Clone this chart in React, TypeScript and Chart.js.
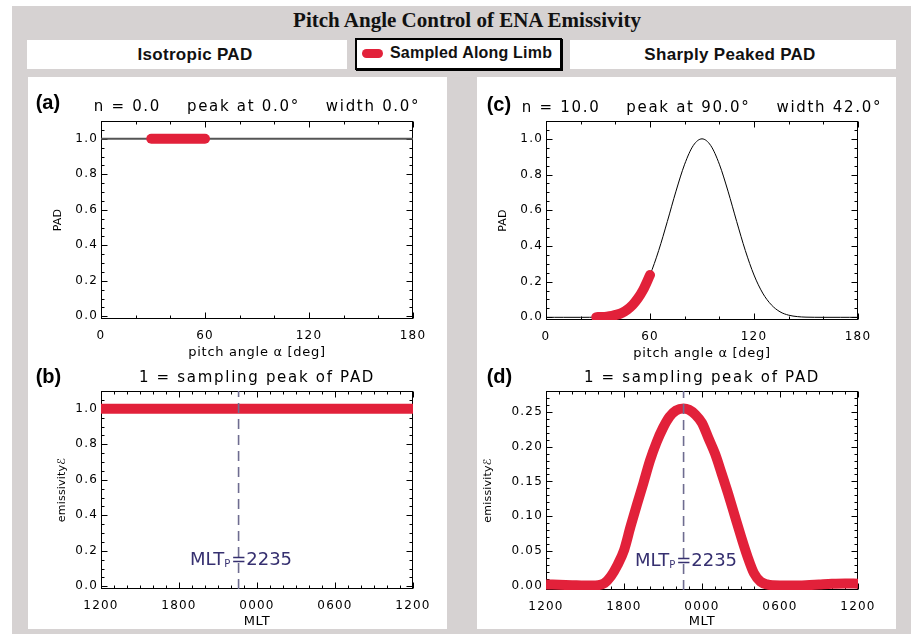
import React, { useEffect, useRef } from "react";
import { Chart, registerables } from "chart.js";

Chart.register(...registerables);

// ---------------- data ----------------
const pitchAngleDeg = [0, 5, 10, 15, 20, 25, 30, 35, 40, 45, 50, 55, 60, 65, 70, 75, 80, 85, 90, 95, 100, 105, 110, 115, 120, 125, 130, 135, 140, 145, 150, 155, 160, 165, 170, 175, 180];
const padIsotropic = [1, 1, 1, 1, 1, 1, 1, 1, 1, 1, 1, 1, 1, 1, 1, 1, 1, 1, 1, 1, 1, 1, 1, 1, 1, 1, 1, 1, 1, 1, 1, 1, 1, 1, 1, 1, 1];
const padPeaked = [0, 0, 0, 0, 0, 0.0002, 0.001, 0.004, 0.012, 0.031, 0.07, 0.136, 0.237, 0.374, 0.537, 0.707, 0.858, 0.963, 1.0, 0.963, 0.858, 0.707, 0.537, 0.374, 0.237, 0.136, 0.07, 0.031, 0.012, 0.004, 0.001, 0.0002, 0, 0, 0, 0, 0];

const sampledAngleDeg = [29, 32, 35, 38, 41, 44, 47, 50, 53, 56, 60];
const sampledPadIsotropic = [1, 1, 1, 1, 1, 1, 1, 1, 1, 1, 1];
const sampledPadPeaked = [0.001, 0.002, 0.004, 0.008, 0.015, 0.026, 0.044, 0.07, 0.106, 0.153, 0.237];

const mltHoursIsotropic = [12, 36];
const emissivityIsotropic = [1.0, 1.0];

const mltHours = [12, 13, 14, 15, 16, 16.5, 17, 17.5, 18, 18.5, 19, 19.5, 20, 20.5, 21, 21.5, 22, 22.58, 23, 23.5, 24, 24.5, 25, 25.5, 26, 26.5, 27, 27.5, 28, 28.5, 29, 30, 31, 32, 33, 34, 35, 36];
const emissivityPeaked = [0.002, 0.0015, 0.001, 0.0005, 0.001, 0.004, 0.014, 0.03, 0.051, 0.085, 0.117, 0.148, 0.18, 0.206, 0.227, 0.243, 0.252, 0.255, 0.253, 0.246, 0.234, 0.212, 0.19, 0.162, 0.133, 0.102, 0.071, 0.042, 0.018, 0.006, 0.002, 0.0005, 0.0005, 0.001, 0.002, 0.003, 0.0035, 0.003];

const mltPeakHours = 22.583;
const mltPeakLabel = "2235";

const mltTickLabels = ["1200", "1800", "0000", "0600", "1200"];

// ---------------- styles ----------------
const RED = "#e2213a";
const DASH = "#6e6c90";
const NAVY = "#363070";
const GRAY = "#d6d2d2";
const FONT = "'DejaVu Sans', sans-serif";

const toXY = (xs: number[], ys: number[]) => xs.map((x, i) => ({ x, y: ys[i] }));

interface PanelSpec {
  key: string;
  left: number;
  top: number;
  width: number;
  height: number;
  yAxisWidth: number;
  padTop: number;
  padRight: number;
  xAxisHeight: number;
  xMin: number;
  xMax: number;
  xStep: number;
  xMinorStep: number;
  xLabel: (v: number, i: number) => string;
  xTickPad: number;
  yMin: number;
  yMax: number;
  yStep: number;
  yMinorStep: number;
  yDecimals: number;
  letter: string;
  letterDX: number;
  letterDY: number;
  title: string;
  titleDY: number;
  xTitle: string;
  xTitleDY: number;
  yTitle: string;
  yTitleDX: number;
  mltMark: boolean;
  datasets: any[];
}

function makeDecor(spec: PanelSpec) {
  return {
    id: "decor",
    beforeDraw(chart: any) {
      chart.ctx.letterSpacing = "1.2px";
    },
    beforeDatasetsDraw(chart: any) {
      const { ctx, chartArea: a } = chart;
      const xs = chart.scales.x;
      const ys = chart.scales.y;
      ctx.save();
      ctx.strokeStyle = "#000";
      ctx.lineWidth = 1;
      const L = Math.round(a.left) + 0.5;
      const R = Math.round(a.right) - 0.5;
      const T = Math.round(a.top) + 0.5;
      const B = Math.round(a.bottom) - 0.5;
      ctx.strokeRect(L, T, R - L, B - T);
      ctx.beginPath();
      const major = 6;
      const minor = 3;
      const xMaj = xs.ticks.map((t: any) => t.value);
      const yMaj = ys.ticks.map((t: any) => t.value);
      const isMaj = (arr: number[], v: number) => arr.some((m) => Math.abs(m - v) < 1e-6);
      for (let v = spec.xMin; v <= spec.xMax + 1e-9; v += spec.xMinorStep) {
        const p = Math.round(xs.getPixelForValue(v)) + 0.5;
        const len = isMaj(xMaj, v) ? major : minor;
        ctx.moveTo(p, B);
        ctx.lineTo(p, B - len);
        ctx.moveTo(p, T);
        ctx.lineTo(p, T + len);
      }
      const y0 = Math.ceil(spec.yMin / spec.yMinorStep - 1e-9);
      for (let k = y0; k * spec.yMinorStep <= spec.yMax + 1e-9; k++) {
        const v = k * spec.yMinorStep;
        const p = Math.round(ys.getPixelForValue(v)) + 0.5;
        const len = isMaj(yMaj, v) ? major : minor;
        ctx.moveTo(L, p);
        ctx.lineTo(L + len, p);
        ctx.moveTo(R, p);
        ctx.lineTo(R - len, p);
      }
      ctx.stroke();
      ctx.restore();
    },
    afterDraw(chart: any) {
      const { ctx, chartArea: a } = chart;
      const xs = chart.scales.x;
      const cx = (a.left + a.right) / 2;
      const cy = (a.top + a.bottom) / 2;
      ctx.save();
      ctx.fillStyle = "#000";
      ctx.textBaseline = "middle";
      // panel letter
      ctx.letterSpacing = "0px";
      ctx.font = "bold 20px 'Liberation Sans', sans-serif";
      ctx.textAlign = "left";
      ctx.fillText(spec.letter, a.left + spec.letterDX, a.top + spec.letterDY);
      // title
      ctx.letterSpacing = "1.7px";
      ctx.font = `15px ${FONT}`;
      ctx.textAlign = "center";
      ctx.fillText(spec.title, cx, a.top + spec.titleDY);
      // x title
      ctx.letterSpacing = "0.7px";
      ctx.font = `13px ${FONT}`;
      ctx.fillText(spec.xTitle, cx, a.bottom + spec.xTitleDY);
      // y title
      ctx.letterSpacing = "0.2px";
      ctx.font = `11px ${FONT}`;
      ctx.save();
      ctx.translate(a.left + spec.yTitleDX, cy);
      ctx.rotate(-Math.PI / 2);
      ctx.fillText(spec.yTitle, 0, 0);
      ctx.restore();
      // MLT peak annotation
      if (spec.mltMark) {
        ctx.letterSpacing = "0px";
        ctx.fillStyle = NAVY;
        ctx.textAlign = "left";
        ctx.textBaseline = "alphabetic";
        const big = `18px ${FONT}`;
        const small = `10px ${FONT}`;
        ctx.font = big;
        const w1 = ctx.measureText("MLT").width;
        const w3 = ctx.measureText("=" + mltPeakLabel).width;
        ctx.font = small;
        const w2 = ctx.measureText("P").width + 1;
        const total = w1 + w2 + w3;
        const px = xs.getPixelForValue(mltPeakHours) + 2.5;
        const base = a.bottom - 31 + 6.5;
        let x = px - total / 2;
        ctx.font = big;
        ctx.fillText("MLT", x, base);
        x += w1;
        ctx.font = small;
        ctx.fillText("P", x, base + 2.5);
        x += w2;
        ctx.font = big;
        ctx.fillText("=" + mltPeakLabel, x, base);
      }
      ctx.restore();
    },
  };
}

const fix = (d: number) => (v: any) => Number(v).toFixed(d);

const specs: PanelSpec[] = [
  {
    key: "a",
    left: 28, top: 77, width: 419, height: 285,
    yAxisWidth: 73, padTop: 44, padRight: 34, xAxisHeight: 43,
    xMin: 0, xMax: 180, xStep: 60, xMinorStep: 20, xLabel: (v) => String(v), xTickPad: 9.5,
    yMin: -0.015, yMax: 1.1, yStep: 0.2, yMinorStep: 0.05, yDecimals: 1,
    letter: "(a)", letterDX: -65.3, letterDY: -17.3,
    title: "n = 0.0    peak at 0.0°    width 0.0°", titleDY: -14.3,
    xTitle: "pitch angle α [deg]", xTitleDY: 34,
    yTitle: "PAD", yTitleDX: -42.7,
    mltMark: false,
    datasets: [
      { label: "Sampled Along Limb", data: toXY(sampledAngleDeg, sampledPadIsotropic), borderColor: RED, borderWidth: 10, borderCapStyle: "round", borderJoinStyle: "round", order: 1, clip: 0 },
      { label: "PAD", data: toXY(pitchAngleDeg, padIsotropic), borderColor: "#555", borderWidth: 1.8, order: 2 },
    ],
  },
  {
    key: "b",
    left: 28, top: 362, width: 419, height: 267,
    yAxisWidth: 73, padTop: 29, padRight: 34, xAxisHeight: 40,
    xMin: 12, xMax: 36, xStep: 6, xMinorStep: 1, xLabel: (_v, i) => mltTickLabels[i], xTickPad: 10,
    yMin: -0.015, yMax: 1.1, yStep: 0.2, yMinorStep: 0.05, yDecimals: 1,
    letter: "(b)", letterDX: -65.3, letterDY: -14,
    title: "1 = sampling peak of PAD", titleDY: -12.7,
    xTitle: "MLT", xTitleDY: 32.4,
    yTitle: "emissivityℰ", yTitleDX: -39.3,
    mltMark: true,
    datasets: [
      { label: "MLTp", data: [{ x: mltPeakHours, y: -0.015 }, { x: mltPeakHours, y: 1.1 }], borderColor: DASH, borderWidth: 1.6, borderDash: [10, 6], order: 0 },
      { label: "emissivity", data: toXY(mltHoursIsotropic, emissivityIsotropic), borderColor: RED, borderWidth: 10, order: 1, clip: 0 },
    ],
  },
  {
    key: "c",
    left: 477, top: 77, width: 419, height: 285,
    yAxisWidth: 69, padTop: 44, padRight: 38, xAxisHeight: 42,
    xMin: 0, xMax: 180, xStep: 60, xMinorStep: 20, xLabel: (v) => String(v), xTickPad: 9.5,
    yMin: -0.015, yMax: 1.1, yStep: 0.2, yMinorStep: 0.05, yDecimals: 1,
    letter: "(c)", letterDX: -59.3, letterDY: -16,
    title: "n = 10.0    peak at 90.0°    width 42.0°", titleDY: -13,
    xTitle: "pitch angle α [deg]", xTitleDY: 33.3,
    yTitle: "PAD", yTitleDX: -42.7,
    mltMark: false,
    datasets: [
      { label: "Sampled Along Limb", data: toXY(sampledAngleDeg, sampledPadPeaked), borderColor: RED, borderWidth: 10, borderCapStyle: "round", borderJoinStyle: "round", cubicInterpolationMode: "monotone", order: 1, clip: 0 },
      { label: "PAD", data: toXY(pitchAngleDeg, padPeaked), borderColor: "#000", borderWidth: 1, cubicInterpolationMode: "monotone", order: 2 },
    ],
  },
  {
    key: "d",
    left: 477, top: 362, width: 419, height: 267,
    yAxisWidth: 69, padTop: 29, padRight: 38, xAxisHeight: 39,
    xMin: 12, xMax: 36, xStep: 6, xMinorStep: 1, xLabel: (_v, i) => mltTickLabels[i], xTickPad: 10,
    yMin: -0.006, yMax: 0.28, yStep: 0.05, yMinorStep: 0.01, yDecimals: 2,
    letter: "(d)", letterDX: -59.3, letterDY: -14,
    title: "1 = sampling peak of PAD", titleDY: -12.4,
    xTitle: "MLT", xTitleDY: 31.7,
    yTitle: "emissivityℰ", yTitleDX: -57.7,
    mltMark: true,
    datasets: [
      { label: "MLTp", data: [{ x: mltPeakHours, y: -0.006 }, { x: mltPeakHours, y: 0.28 }], borderColor: DASH, borderWidth: 1.6, borderDash: [10, 6], order: 0 },
      { label: "emissivity", data: toXY(mltHours, emissivityPeaked), borderColor: RED, borderWidth: 10, borderJoinStyle: "round", cubicInterpolationMode: "monotone", order: 1, clip: 0 },
    ],
  },
];

function Panel({ spec }: { spec: PanelSpec }) {
  const ref = useRef<HTMLCanvasElement>(null);
  useEffect(() => {
    if (!ref.current) return;
    const tickFont = { family: FONT, size: 12 };
    const chart = new Chart(ref.current, {
      type: "line",
      data: { datasets: spec.datasets.map((d) => ({ ...d, pointRadius: 0, pointHoverRadius: 0, fill: false })) },
      options: {
        animation: false,
        responsive: false,
        maintainAspectRatio: false,
        events: [],
        layout: { padding: { left: 0, top: spec.padTop, right: spec.padRight, bottom: 0 } },
        plugins: { legend: { display: false }, title: { display: false }, tooltip: { enabled: false } },
        scales: {
          x: {
            type: "linear",
            position: "bottom",
            min: spec.xMin,
            max: spec.xMax,
            grid: { display: false, drawTicks: false },
            border: { display: false },
            ticks: {
              stepSize: spec.xStep,
              includeBounds: false,
              autoSkip: false,
              maxRotation: 0,
              minRotation: 0,
              padding: spec.xTickPad,
              color: "#000",
              font: tickFont,
              callback: (v: any, i: number) => spec.xLabel(Number(v), i),
            },
            afterFit: (s: any) => {
              s.height = spec.xAxisHeight;
            },
          },
          y: {
            type: "linear",
            position: "left",
            min: spec.yMin,
            max: spec.yMax,
            grid: { display: false, drawTicks: false },
            border: { display: false },
            ticks: {
              stepSize: spec.yStep,
              includeBounds: false,
              autoSkip: false,
              padding: 3,
              color: "#000",
              font: tickFont,
              callback: fix(spec.yDecimals),
            },
            afterFit: (s: any) => {
              s.width = spec.yAxisWidth;
            },
          },
        },
      } as any,
      plugins: [makeDecor(spec) as any],
    });
    return () => chart.destroy();
  }, [spec]);
  return (
    <canvas
      ref={ref}
      width={spec.width}
      height={spec.height}
      style={{ position: "absolute", left: spec.left, top: spec.top, width: spec.width, height: spec.height }}
    />
  );
}

const center = (x: number, y: number): React.CSSProperties => ({
  position: "absolute",
  left: x,
  top: y,
  transform: "translate(-50%, -50%)",
  whiteSpace: "nowrap",
  lineHeight: 1,
});

export default function App() {
  return (
    <div style={{ position: "absolute", left: 0, top: 0, width: 911, height: 634, background: "#fff", overflow: "hidden" }}>
      <div style={{ position: "absolute", left: 12, top: 6, width: 899, height: 628, background: GRAY }} />
      <div style={{ ...center(467, 20), font: "bold 21px 'Liberation Serif', serif", color: "#111" }}>
        Pitch Angle Control of ENA Emissivity
      </div>
      <div style={{ position: "absolute", left: 27, top: 40, width: 320, height: 29, background: "#fff" }} />
      <div style={{ position: "absolute", left: 570, top: 40, width: 326, height: 29, background: "#fff" }} />
      <div
        style={{
          position: "absolute",
          left: 355,
          top: 38,
          width: 207,
          height: 32,
          boxSizing: "border-box",
          border: "2px solid #000",
          boxShadow: "1px 1px 0 #000",
          background: "#fff",
        }}
      />
      <div style={{ ...center(195, 54.5), font: "bold 17px 'Liberation Sans', sans-serif", letterSpacing: "0.3px", color: "#111" }}>
        Isotropic PAD
      </div>
      <div style={{ ...center(730, 54.5), font: "bold 17px 'Liberation Sans', sans-serif", letterSpacing: "0.3px", color: "#111" }}>
        Sharply Peaked PAD
      </div>
      <div style={{ position: "absolute", left: 362, top: 49, width: 21, height: 8.5, borderRadius: 5, background: RED }} />
      <div
        style={{
          position: "absolute",
          left: 390,
          top: 53,
          transform: "translateY(-50%)",
          whiteSpace: "nowrap",
          lineHeight: 1,
          font: "bold 16px 'Liberation Sans', sans-serif",
          letterSpacing: "0.2px",
          color: "#111",
        }}
      >
        Sampled Along Limb
      </div>
      <div style={{ position: "absolute", left: 28, top: 77, width: 419, height: 552, background: "#fff" }} />
      <div style={{ position: "absolute", left: 477, top: 77, width: 419, height: 552, background: "#fff" }} />
      {specs.map((s) => (
        <Panel key={s.key} spec={s} />
      ))}
    </div>
  );
}
